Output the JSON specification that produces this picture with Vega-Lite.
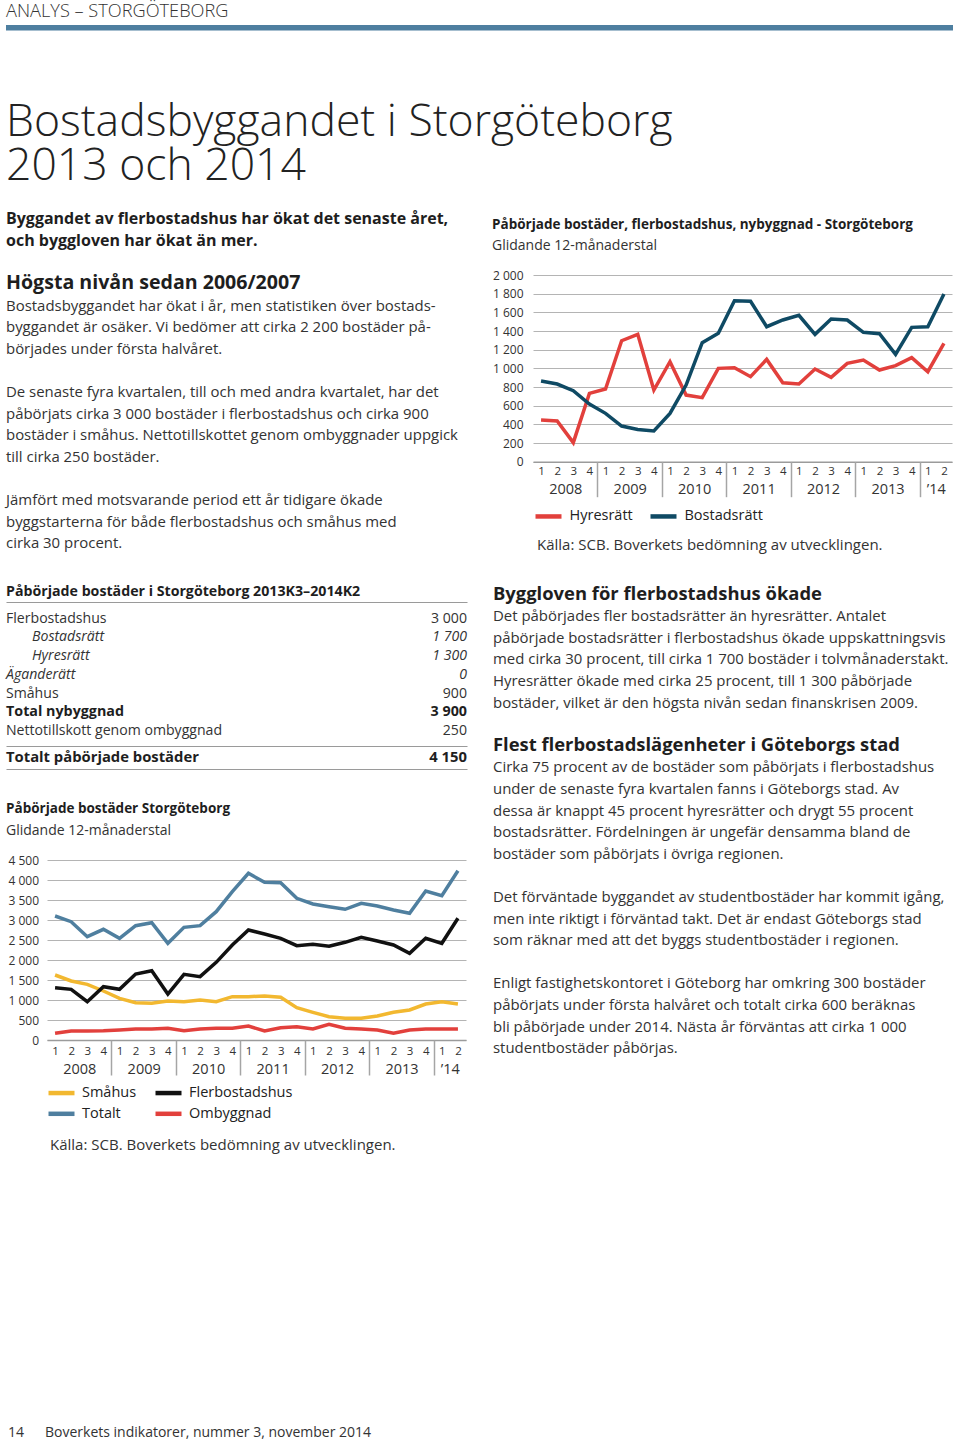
{
  "$schema": "https://vega.github.io/schema/vega-lite/v6.json",
  "background": "white",
  "padding": {"left": 6, "top": 0, "right": 0, "bottom": 0},
  "spacing": 0,
  "bounds": "full",
  "resolve": {"scale": {"color": "independent"}, "legend": {"color": "independent"}},
  "config": {"view": {"stroke": null}, "font": "Open Sans"},
  "datasets": {
    "rubrik": [{"rad": 0, "text": "ANALYS – STORGÖTEBORG"}],
    "titel": [
      {"rad": 0, "text": "Bostadsbyggandet i Storgöteborg"},
      {"rad": 1, "text": "2013 och 2014"}
    ],
    "vanster": [
      {"rad": 0, "stil": "ingress", "text": "Byggandet av flerbostadshus har ökat det senaste året,"},
      {"rad": 1, "stil": "ingress", "text": "och byggloven har ökat än mer."},
      {"rad": 3, "stil": "rubrik", "text": "Högsta nivån sedan 2006/2007"},
      {"rad": 4, "stil": "brod", "text": "Bostadsbyggandet har ökat i år, men statistiken över bostads-"},
      {"rad": 5, "stil": "brod", "text": "byggandet är osäker. Vi bedömer att cirka 2 200 bostäder på-"},
      {"rad": 6, "stil": "brod", "text": "börjades under första halvåret."},
      {"rad": 8, "stil": "brod", "text": "De senaste fyra kvartalen, till och med andra kvartalet, har det"},
      {"rad": 9, "stil": "brod", "text": "påbörjats cirka 3 000 bostäder i flerbostadshus och cirka 900"},
      {"rad": 10, "stil": "brod", "text": "bostäder i småhus. Nettotillskottet genom ombyggnader uppgick"},
      {"rad": 11, "stil": "brod", "text": "till cirka 250 bostäder."},
      {"rad": 13, "stil": "brod", "text": "Jämfört med motsvarande period ett år tidigare ökade"},
      {"rad": 14, "stil": "brod", "text": "byggstarterna för både flerbostadshus och småhus med"},
      {"rad": 15, "stil": "brod", "text": "cirka 30 procent."},
      {"rad": 17, "stil": "tabellrubrik", "text": "Påbörjade bostäder i Storgöteborg 2013K3–2014K2"}
    ],
    "tabell": [
      {"rad": 0, "stil": "normal", "post": "Flerbostadshus", "antal": "3 000"},
      {"rad": 1, "stil": "indrag", "post": "Bostadsrätt", "antal": "1 700"},
      {"rad": 2, "stil": "indrag", "post": "Hyresrätt", "antal": "1 300"},
      {"rad": 3, "stil": "kursiv", "post": "Äganderätt", "antal": "0"},
      {"rad": 4, "stil": "normal", "post": "Småhus", "antal": "900"},
      {"rad": 5, "stil": "fet", "post": "Total nybyggnad", "antal": "3 900"},
      {"rad": 6, "stil": "normal", "post": "Nettotillskott genom ombyggnad", "antal": "250"}
    ],
    "summa": [{"rad": 0, "post": "Totalt påbörjade bostäder", "antal": "4 150"}],
    "diagram2rubrik": [
      {"rad": 0, "stil": "rubrik", "text": "Påbörjade bostäder Storgöteborg"},
      {"rad": 1, "stil": "under", "text": "Glidande 12-månaderstal"}
    ],
    "diagram1rubrik": [
      {"rad": 0, "stil": "rubrik", "text": "Påbörjade bostäder, flerbostadshus, nybyggnad - Storgöteborg"},
      {"rad": 1, "stil": "under", "text": "Glidande 12-månaderstal"}
    ],
    "fot": [
      {"rad": 0, "stil": "kalla", "sida": "", "text": "Källa: SCB. Boverkets bedömning av utvecklingen."},
      {"rad": 1, "stil": "sida", "sida": "14", "text": "Boverkets indikatorer, nummer 3, november 2014"}
    ],
    "kalla1": [{"rad": 0, "text": "Källa: SCB. Boverkets bedömning av utvecklingen."}],
    "hoger": [
      {"rad": 0, "stil": "rubrik", "text": "Byggloven för flerbostadshus ökade"},
      {"rad": 1, "stil": "brod", "text": "Det påbörjades fler bostadsrätter än hyresrätter. Antalet"},
      {"rad": 2, "stil": "brod", "text": "påbörjade bostadsrätter i flerbostadshus ökade uppskattningsvis"},
      {"rad": 3, "stil": "brod", "text": "med cirka 30 procent, till cirka 1 700 bostäder i tolvmånaderstakt."},
      {"rad": 4, "stil": "brod", "text": "Hyresrätter ökade med cirka 25 procent, till 1 300 påbörjade"},
      {"rad": 5, "stil": "brod", "text": "bostäder, vilket är den högsta nivån sedan finanskrisen 2009."},
      {"rad": 7, "stil": "rubrik", "text": "Flest flerbostadslägenheter i Göteborgs stad"},
      {"rad": 8, "stil": "brod", "text": "Cirka 75 procent av de bostäder som påbörjats i flerbostadshus"},
      {"rad": 9, "stil": "brod", "text": "under de senaste fyra kvartalen fanns i Göteborgs stad. Av"},
      {"rad": 10, "stil": "brod", "text": "dessa är knappt 45 procent hyresrätter och drygt 55 procent"},
      {"rad": 11, "stil": "brod", "text": "bostadsrätter. Fördelningen är ungefär densamma bland de"},
      {"rad": 12, "stil": "brod", "text": "bostäder som påbörjats i övriga regionen."},
      {"rad": 14, "stil": "brod", "text": "Det förväntade byggandet av studentbostäder har kommit igång,"},
      {"rad": 15, "stil": "brod", "text": "men inte riktigt i förväntad takt. Det är endast Göteborgs stad"},
      {"rad": 16, "stil": "brod", "text": "som räknar med att det byggs studentbostäder i regionen."},
      {"rad": 18, "stil": "brod", "text": "Enligt fastighetskontoret i Göteborg har omkring 300 bostäder"},
      {"rad": 19, "stil": "brod", "text": "påbörjats under första halvåret och totalt cirka 600 beräknas"},
      {"rad": 20, "stil": "brod", "text": "bli påbörjade under 2014. Nästa år förväntas att cirka 1 000"},
      {"rad": 21, "stil": "brod", "text": "studentbostäder påbörjas."}
    ],
    "diagram1": [
      {"kvartal": "2008 K1", "Hyresrätt": 446, "Bostadsrätt": 864},
      {"kvartal": "2008 K2", "Hyresrätt": 436, "Bostadsrätt": 832},
      {"kvartal": "2008 K3", "Hyresrätt": 204, "Bostadsrätt": 761},
      {"kvartal": "2008 K4", "Hyresrätt": 732, "Bostadsrätt": 618},
      {"kvartal": "2009 K1", "Hyresrätt": 779, "Bostadsrätt": 518},
      {"kvartal": "2009 K2", "Hyresrätt": 1296, "Bostadsrätt": 382},
      {"kvartal": "2009 K3", "Hyresrätt": 1364, "Bostadsrätt": 346},
      {"kvartal": "2009 K4", "Hyresrätt": 768, "Bostadsrätt": 329},
      {"kvartal": "2010 K1", "Hyresrätt": 1071, "Bostadsrätt": 518},
      {"kvartal": "2010 K2", "Hyresrätt": 714, "Bostadsrätt": 821},
      {"kvartal": "2010 K3", "Hyresrätt": 686, "Bostadsrätt": 1275},
      {"kvartal": "2010 K4", "Hyresrätt": 1000, "Bostadsrätt": 1375},
      {"kvartal": "2011 K1", "Hyresrätt": 1007, "Bostadsrätt": 1725},
      {"kvartal": "2011 K2", "Hyresrätt": 911, "Bostadsrätt": 1718},
      {"kvartal": "2011 K3", "Hyresrätt": 1096, "Bostadsrätt": 1446},
      {"kvartal": "2011 K4", "Hyresrätt": 846, "Bostadsrätt": 1518},
      {"kvartal": "2012 K1", "Hyresrätt": 832, "Bostadsrätt": 1568},
      {"kvartal": "2012 K2", "Hyresrätt": 993, "Bostadsrätt": 1364},
      {"kvartal": "2012 K3", "Hyresrätt": 904, "Bostadsrätt": 1529},
      {"kvartal": "2012 K4", "Hyresrätt": 1054, "Bostadsrätt": 1518},
      {"kvartal": "2013 K1", "Hyresrätt": 1089, "Bostadsrätt": 1386},
      {"kvartal": "2013 K2", "Hyresrätt": 982, "Bostadsrätt": 1371},
      {"kvartal": "2013 K3", "Hyresrätt": 1029, "Bostadsrätt": 1150},
      {"kvartal": "2013 K4", "Hyresrätt": 1114, "Bostadsrätt": 1439},
      {"kvartal": "2014 K1", "Hyresrätt": 964, "Bostadsrätt": 1446},
      {"kvartal": "2014 K2", "Hyresrätt": 1268, "Bostadsrätt": 1796}
    ],
    "diagram2": [
      {"kvartal": "2008 K1", "Småhus": 1625, "Flerbostadshus": 1308, "Totalt": 3100, "Ombyggnad": 167},
      {"kvartal": "2008 K2", "Småhus": 1475, "Flerbostadshus": 1267, "Totalt": 2958, "Ombyggnad": 225},
      {"kvartal": "2008 K3", "Småhus": 1392, "Flerbostadshus": 958, "Totalt": 2583, "Ombyggnad": 225},
      {"kvartal": "2008 K4", "Småhus": 1225, "Flerbostadshus": 1333, "Totalt": 2767, "Ombyggnad": 233},
      {"kvartal": "2009 K1", "Småhus": 1042, "Flerbostadshus": 1267, "Totalt": 2542, "Ombyggnad": 250},
      {"kvartal": "2009 K2", "Småhus": 933, "Flerbostadshus": 1650, "Totalt": 2858, "Ombyggnad": 275},
      {"kvartal": "2009 K3", "Småhus": 917, "Flerbostadshus": 1733, "Totalt": 2933, "Ombyggnad": 275},
      {"kvartal": "2009 K4", "Småhus": 975, "Flerbostadshus": 1150, "Totalt": 2417, "Ombyggnad": 292},
      {"kvartal": "2010 K1", "Småhus": 958, "Flerbostadshus": 1642, "Totalt": 2817, "Ombyggnad": 233},
      {"kvartal": "2010 K2", "Småhus": 1000, "Flerbostadshus": 1583, "Totalt": 2858, "Ombyggnad": 275},
      {"kvartal": "2010 K3", "Småhus": 958, "Flerbostadshus": 1942, "Totalt": 3208, "Ombyggnad": 292},
      {"kvartal": "2010 K4", "Småhus": 1083, "Flerbostadshus": 2375, "Totalt": 3708, "Ombyggnad": 292},
      {"kvartal": "2011 K1", "Småhus": 1083, "Flerbostadshus": 2750, "Totalt": 4167, "Ombyggnad": 350},
      {"kvartal": "2011 K2", "Småhus": 1100, "Flerbostadshus": 2650, "Totalt": 3942, "Ombyggnad": 225},
      {"kvartal": "2011 K3", "Småhus": 1067, "Flerbostadshus": 2542, "Totalt": 3933, "Ombyggnad": 308},
      {"kvartal": "2011 K4", "Småhus": 808, "Flerbostadshus": 2358, "Totalt": 3542, "Ombyggnad": 333},
      {"kvartal": "2012 K1", "Småhus": 692, "Flerbostadshus": 2392, "Totalt": 3400, "Ombyggnad": 275},
      {"kvartal": "2012 K2", "Småhus": 583, "Flerbostadshus": 2342, "Totalt": 3333, "Ombyggnad": 392},
      {"kvartal": "2012 K3", "Småhus": 542, "Flerbostadshus": 2442, "Totalt": 3267, "Ombyggnad": 292},
      {"kvartal": "2012 K4", "Småhus": 542, "Flerbostadshus": 2567, "Totalt": 3417, "Ombyggnad": 275},
      {"kvartal": "2013 K1", "Småhus": 600, "Flerbostadshus": 2475, "Totalt": 3350, "Ombyggnad": 250},
      {"kvartal": "2013 K2", "Småhus": 692, "Flerbostadshus": 2375, "Totalt": 3250, "Ombyggnad": 167},
      {"kvartal": "2013 K3", "Småhus": 750, "Flerbostadshus": 2167, "Totalt": 3167, "Ombyggnad": 250},
      {"kvartal": "2013 K4", "Småhus": 900, "Flerbostadshus": 2542, "Totalt": 3725, "Ombyggnad": 275},
      {"kvartal": "2014 K1", "Småhus": 958, "Flerbostadshus": 2417, "Totalt": 3608, "Ombyggnad": 275},
      {"kvartal": "2014 K2", "Småhus": 900, "Flerbostadshus": 3042, "Totalt": 4233, "Ombyggnad": 275}
    ]
  },
  "vconcat": [
    {
      "width": 947, "height": 24.5,
      "data": {"name": "rubrik"},
      "mark": {"type": "text", "align": "left", "baseline": "alphabetic", "fontSize": 18.2, "fontWeight": 300, "color": "#333333"},
      "encoding": {
        "x": {"value": 0},
        "y": {"field": "rad", "type": "quantitative", "scale": {"domain": [-0.69388, 0.30612], "reverse": true, "nice": false, "zero": false}, "axis": null},
        "text": {"field": "text"}
      }
    },
    {
      "width": 947, "height": 5.5,
      "data": {"values": [{"del": "linje"}]},
      "mark": {"type": "rect", "color": "#4e7fa0"}
    },
    {
      "width": 947, "height": 170,
      "data": {"name": "titel"},
      "mark": {"type": "text", "align": "left", "baseline": "alphabetic", "fontSize": 44.5, "fontWeight": 300, "color": "#222222"},
      "encoding": {
        "x": {"value": 0},
        "y": {"field": "rad", "type": "quantitative", "scale": {"domain": [-2.3702, 1.46727], "reverse": true, "nice": false, "zero": false}, "axis": null},
        "text": {"field": "text"}
      }
    },
    {
      "spacing": 25,
      "bounds": "full",
      "resolve": {"scale": {"color": "independent"}, "legend": {"color": "independent"}},
      "hconcat": [
        {
          "spacing": 0,
          "bounds": "flush",
          "resolve": {"scale": {"color": "independent"}, "legend": {"color": "independent"}},
          "vconcat": [
            {
              "width": 461, "height": 400.7,
              "data": {"name": "vanster"},
              "encoding": {
                "x": {"value": 0},
                "y": {"field": "rad", "type": "quantitative", "scale": {"domain": [-1.0787, 17.47222], "reverse": true, "nice": false, "zero": false}, "axis": null},
                "text": {"field": "text"}
              },
              "layer": [
                {"transform": [{"filter": "datum.stil == 'ingress'"}], "mark": {"type": "text", "align": "left", "baseline": "alphabetic", "fontSize": 16, "fontWeight": "bold", "color": "#1e1e1e"}},
                {"transform": [{"filter": "datum.stil == 'rubrik'"}], "mark": {"type": "text", "align": "left", "baseline": "alphabetic", "fontSize": 19.6, "fontWeight": "bold", "color": "#1e1e1e"}},
                {"transform": [{"filter": "datum.stil == 'brod'"}], "mark": {"type": "text", "align": "left", "baseline": "alphabetic", "fontSize": 14.95, "fontWeight": 400, "color": "#333333"}},
                {"transform": [{"filter": "datum.stil == 'tabellrubrik'"}], "mark": {"type": "text", "align": "left", "baseline": "alphabetic", "fontSize": 14.2, "fontWeight": "bold", "color": "#1e1e1e", "dy": 4}}
              ]
            },
            {
              "width": 461, "height": 143.6,
              "data": {"name": "tabell"},
              "encoding": {
                "y": {"field": "rad", "type": "quantitative", "scale": {"domain": [-1.09217, 6.55834], "reverse": true, "nice": false, "zero": false},
                  "axis": {"title": null, "labels": false, "ticks": false, "domain": false, "grid": true, "values": [-1.09217, 6.55834], "gridColor": "#9a9a9a", "gridWidth": 1.2}}
              },
              "layer": [
                {"transform": [{"filter": "datum.stil == 'normal'"}], "mark": {"type": "text", "align": "left", "baseline": "alphabetic", "fontSize": 14.1, "fontWeight": 400, "color": "#333333"}, "encoding": {"x": {"value": 0}, "text": {"field": "post"}}},
                {"transform": [{"filter": "datum.stil == 'indrag'"}], "mark": {"type": "text", "align": "left", "baseline": "alphabetic", "fontSize": 14.1, "fontWeight": 400, "fontStyle": "italic", "color": "#333333"}, "encoding": {"x": {"value": 26}, "text": {"field": "post"}}},
                {"transform": [{"filter": "datum.stil == 'kursiv'"}], "mark": {"type": "text", "align": "left", "baseline": "alphabetic", "fontSize": 14.1, "fontWeight": 400, "fontStyle": "italic", "color": "#333333"}, "encoding": {"x": {"value": 0}, "text": {"field": "post"}}},
                {"transform": [{"filter": "datum.stil == 'fet'"}], "mark": {"type": "text", "align": "left", "baseline": "alphabetic", "fontSize": 14.3, "fontWeight": "bold", "color": "#1e1e1e"}, "encoding": {"x": {"value": 0}, "text": {"field": "post"}}},
                {"transform": [{"filter": "datum.stil == 'normal'"}], "mark": {"type": "text", "align": "right", "baseline": "alphabetic", "fontSize": 14.1, "fontWeight": 400, "color": "#333333"}, "encoding": {"x": {"value": "width"}, "text": {"field": "antal"}}},
                {"transform": [{"filter": "datum.stil == 'indrag' || datum.stil == 'kursiv'"}], "mark": {"type": "text", "align": "right", "baseline": "alphabetic", "fontSize": 14.1, "fontWeight": 400, "fontStyle": "italic", "color": "#333333"}, "encoding": {"x": {"value": "width"}, "text": {"field": "antal"}}},
                {"transform": [{"filter": "datum.stil == 'fet'"}], "mark": {"type": "text", "align": "right", "baseline": "alphabetic", "fontSize": 14.3, "fontWeight": "bold", "color": "#1e1e1e"}, "encoding": {"x": {"value": "width"}, "text": {"field": "antal"}}}
              ]
            },
            {
              "width": 461, "height": 23,
              "data": {"name": "summa"},
              "encoding": {
                "y": {"field": "rad", "type": "quantitative", "scale": {"domain": [-0.70435, 0.29565], "reverse": true, "nice": false, "zero": false},
                  "axis": {"title": null, "labels": false, "ticks": false, "domain": false, "grid": true, "values": [0.29565], "gridColor": "#9a9a9a", "gridWidth": 1.2}}
              },
              "layer": [
                {"mark": {"type": "text", "align": "left", "baseline": "alphabetic", "fontSize": 14.8, "fontWeight": "bold", "color": "#1e1e1e"}, "encoding": {"x": {"value": 0}, "text": {"field": "post"}}},
                {"mark": {"type": "text", "align": "right", "baseline": "alphabetic", "fontSize": 14.8, "fontWeight": "bold", "color": "#1e1e1e"}, "encoding": {"x": {"value": "width"}, "text": {"field": "antal"}}}
              ]
            },
            {
              "width": 461, "height": 91,
              "data": {"name": "diagram2rubrik"},
              "encoding": {
                "x": {"value": 0},
                "y": {"field": "rad", "type": "quantitative", "scale": {"domain": [-2.02752, 2.14679], "reverse": true, "nice": false, "zero": false}, "axis": null},
                "text": {"field": "text"}
              },
              "layer": [
                {"transform": [{"filter": "datum.stil == 'rubrik'"}], "mark": {"type": "text", "align": "left", "baseline": "alphabetic", "fontSize": 13.5, "fontWeight": "bold", "color": "#1e1e1e"}},
                {"transform": [{"filter": "datum.stil == 'under'"}], "mark": {"type": "text", "align": "left", "baseline": "alphabetic", "fontSize": 14, "fontWeight": 400, "color": "#333333"}}
              ]
            },
            {
              "width": 460, "height": 180,
              "data": {"name": "diagram2"},
              "transform": [{"fold": ["Småhus", "Flerbostadshus", "Totalt", "Ombyggnad"], "as": ["serie", "antal"]}],
              "encoding": {
                "y": {"field": "antal", "type": "quantitative", "scale": {"domain": [0, 4500], "nice": false},
                  "axis": {"title": null, "values": [0, 500, 1000, 1500, 2000, 2500, 3000, 3500, 4000, 4500], "offset": -41, "domain": false, "ticks": false, "tickSize": 0, "labelPadding": 8.5, "labelFont": "Open Sans", "labelFontSize": 12, "labelColor": "#333333", "gridColor": "#b4b4b4", "gridWidth": 1, "labelExpr": "replace(format(datum.value, ','), ',', ' ')"}},
                "color": {"field": "serie", "type": "nominal",
                  "scale": {"domain": ["Småhus", "Flerbostadshus", "Totalt", "Ombyggnad"], "range": ["#f2b830", "#111111", "#4f7f9f", "#e2403c"]},
                  "legend": {"orient": "none", "legendX": 45, "legendY": 222.3, "columns": 2, "direction": "horizontal", "title": null, "symbolType": "M-1.625,0H1.625", "symbolSize": 256, "symbolStrokeWidth": 4.5, "labelFont": "Open Sans", "labelFontSize": 14.5, "labelFontWeight": 400, "labelColor": "#222222", "labelOffset": 10, "columnPadding": 9, "rowPadding": 1}}
              },
              "layer": [
                {
                  "transform": [{"filter": "datum.serie == 'Småhus' || datum.serie == 'Flerbostadshus'"}],
                  "mark": {"type": "line", "strokeWidth": 3.5},
                  "encoding": {"x": {"field": "kvartal", "type": "ordinal", "scale": {"type": "point", "padding": 0.5, "range": [41, 460]},
                    "axis": {"orient": "bottom", "title": null, "labelExpr": "substring(datum.value, 6)", "labelAngle": 0, "ticks": false, "tickSize": 0, "domain": true, "domainColor": "#9b9b9b", "domainWidth": 1.5, "grid": false, "labelPadding": 5, "labelFont": "Open Sans", "labelFontSize": 11.5, "labelColor": "#333333"}}}
                },
                {
                  "transform": [{"filter": "datum.serie == 'Totalt' || datum.serie == 'Ombyggnad'"}],
                  "mark": {"type": "line", "strokeWidth": 3.5},
                  "encoding": {"x": {"field": "kvartal", "type": "ordinal", "scale": {"type": "point", "padding": 0.5, "range": [41, 460]},
                    "axis": {"orient": "bottom", "title": null, "values": ["2008 K4", "2009 K4", "2010 K4", "2011 K4", "2012 K4", "2013 K4", "2014 K2"], "labelExpr": "datum.value == '2014 K2' ? '’14' : substring(datum.value, 0, 4)", "labelAngle": 0, "domain": false, "grid": false, "ticks": true, "tickSize": 35, "tickColor": "#a5a5a5", "tickWidth": 1.5, "tickOffset": 8.06, "tickOpacity": {"condition": {"test": "datum.value == '2014 K2'", "value": 0}, "value": 1}, "labelOffset": {"condition": {"test": "datum.value == '2014 K2'", "value": -16.12}, "value": -32.23}, "labelPadding": -13, "labelFont": "Open Sans", "labelFontSize": 14.5, "labelColor": "#333333"}}}
                }
              ],
              "resolve": {"axis": {"x": "independent"}}
            },
            {
              "width": 461, "height": 400.7,
              "data": {"name": "fot"},
              "encoding": {
                "y": {"field": "rad", "type": "quantitative", "scale": {"domain": [-0.38301, 1.01219], "reverse": true, "nice": false, "zero": false}, "axis": null}
              },
              "layer": [
                {"transform": [{"filter": "datum.stil == 'kalla'"}], "mark": {"type": "text", "align": "left", "baseline": "alphabetic", "fontSize": 15, "fontWeight": 400, "color": "#333333"}, "encoding": {"x": {"value": 44}, "text": {"field": "text"}}},
                {"transform": [{"filter": "datum.stil == 'sida'"}], "mark": {"type": "text", "align": "left", "baseline": "alphabetic", "fontSize": 14, "fontWeight": 400, "color": "#333333"}, "encoding": {"x": {"value": 2}, "text": {"field": "sida"}}},
                {"transform": [{"filter": "datum.stil == 'sida'"}], "mark": {"type": "text", "align": "left", "baseline": "alphabetic", "fontSize": 14, "fontWeight": 400, "color": "#333333"}, "encoding": {"x": {"value": 39}, "text": {"field": "text"}}}
              ]
            }
          ]
        },
        {
          "spacing": 0,
          "bounds": "flush",
          "resolve": {"scale": {"color": "independent"}, "legend": {"color": "independent"}},
          "vconcat": [
            {
              "width": 463, "height": 73.3,
              "data": {"name": "diagram1rubrik"},
              "encoding": {
                "x": {"value": 0},
                "y": {"field": "rad", "type": "quantitative", "scale": {"domain": [-1.37019, 2.15385], "reverse": true, "nice": false, "zero": false}, "axis": null},
                "text": {"field": "text"}
              },
              "layer": [
                {"transform": [{"filter": "datum.stil == 'rubrik'"}], "mark": {"type": "text", "align": "left", "baseline": "alphabetic", "fontSize": 13.5, "fontWeight": "bold", "color": "#1e1e1e"}},
                {"transform": [{"filter": "datum.stil == 'under'"}], "mark": {"type": "text", "align": "left", "baseline": "alphabetic", "fontSize": 14, "fontWeight": 400, "color": "#333333"}}
              ]
            },
            {
              "width": 460, "height": 186.7,
              "data": {"name": "diagram1"},
              "transform": [{"fold": ["Hyresrätt", "Bostadsrätt"], "as": ["serie", "antal"]}],
              "encoding": {
                "y": {"field": "antal", "type": "quantitative", "scale": {"domain": [0, 2000], "nice": false},
                  "axis": {"title": null, "values": [0, 200, 400, 600, 800, 1000, 1200, 1400, 1600, 1800, 2000], "offset": -41, "domain": false, "ticks": false, "tickSize": 0, "labelPadding": 10, "labelFont": "Open Sans", "labelFontSize": 12, "labelColor": "#333333", "gridColor": "#b4b4b4", "gridWidth": 1, "labelExpr": "replace(format(datum.value, ','), ',', ' ')"}},
                "color": {"field": "serie", "type": "nominal",
                  "scale": {"domain": ["Hyresrätt", "Bostadsrätt"], "range": ["#e2403c", "#0f4a64"]},
                  "legend": {"orient": "none", "legendX": 46, "legendY": 230.7, "direction": "horizontal", "title": null, "symbolType": "M-1.625,0H1.625", "symbolSize": 256, "symbolStrokeWidth": 4.5, "labelFont": "Open Sans", "labelFontSize": 14.5, "labelFontWeight": 400, "labelColor": "#222222", "labelOffset": 10.5, "columnPadding": 8}}
              },
              "layer": [
                {
                  "transform": [{"filter": "datum.serie == 'Hyresrätt'"}],
                  "mark": {"type": "line", "strokeWidth": 3.5},
                  "encoding": {"x": {"field": "kvartal", "type": "ordinal", "scale": {"type": "point", "padding": 0.5, "range": [41, 460]},
                    "axis": {"orient": "bottom", "title": null, "labelExpr": "substring(datum.value, 6)", "labelAngle": 0, "ticks": false, "tickSize": 0, "domain": true, "domainColor": "#9b9b9b", "domainWidth": 1.5, "grid": false, "labelPadding": 4, "labelFont": "Open Sans", "labelFontSize": 11.5, "labelColor": "#333333"}}}
                },
                {
                  "transform": [{"filter": "datum.serie == 'Bostadsrätt'"}],
                  "mark": {"type": "line", "strokeWidth": 3.5},
                  "encoding": {"x": {"field": "kvartal", "type": "ordinal", "scale": {"type": "point", "padding": 0.5, "range": [41, 460]},
                    "axis": {"orient": "bottom", "title": null, "values": ["2008 K4", "2009 K4", "2010 K4", "2011 K4", "2012 K4", "2013 K4", "2014 K2"], "labelExpr": "datum.value == '2014 K2' ? '’14' : substring(datum.value, 0, 4)", "labelAngle": 0, "domain": false, "grid": false, "ticks": true, "tickSize": 35, "tickColor": "#a5a5a5", "tickWidth": 1.5, "tickOffset": 8.06, "tickOpacity": {"condition": {"test": "datum.value == '2014 K2'", "value": 0}, "value": 1}, "labelOffset": {"condition": {"test": "datum.value == '2014 K2'", "value": -16.12}, "value": -32.23}, "labelPadding": -14, "labelFont": "Open Sans", "labelFontSize": 14.5, "labelColor": "#333333"}}}
                }
              ],
              "resolve": {"axis": {"x": "independent"}}
            },
            {
              "width": 463, "height": 115,
              "data": {"name": "kalla1"},
              "mark": {"type": "text", "align": "left", "baseline": "alphabetic", "fontSize": 15, "fontWeight": 400, "color": "#333333"},
              "encoding": {
                "x": {"value": 45},
                "y": {"field": "rad", "type": "quantitative", "scale": {"domain": [-0.76783, 0.23217], "reverse": true, "nice": false, "zero": false}, "axis": null},
                "text": {"field": "text"}
              }
            },
            {
              "width": 463, "height": 864,
              "data": {"name": "hoger"},
              "encoding": {
                "x": {"value": 1},
                "y": {"field": "rad", "type": "quantitative", "scale": {"domain": [-1.04167, 38.95833], "reverse": true, "nice": false, "zero": false}, "axis": null},
                "text": {"field": "text"}
              },
              "layer": [
                {"transform": [{"filter": "datum.stil == 'rubrik'"}], "mark": {"type": "text", "align": "left", "baseline": "alphabetic", "fontSize": 18.4, "fontWeight": "bold", "color": "#1e1e1e"}},
                {"transform": [{"filter": "datum.stil == 'brod'"}], "mark": {"type": "text", "align": "left", "baseline": "alphabetic", "fontSize": 14.95, "fontWeight": 400, "color": "#333333"}}
              ]
            }
          ]
        }
      ]
    }
  ]
}
